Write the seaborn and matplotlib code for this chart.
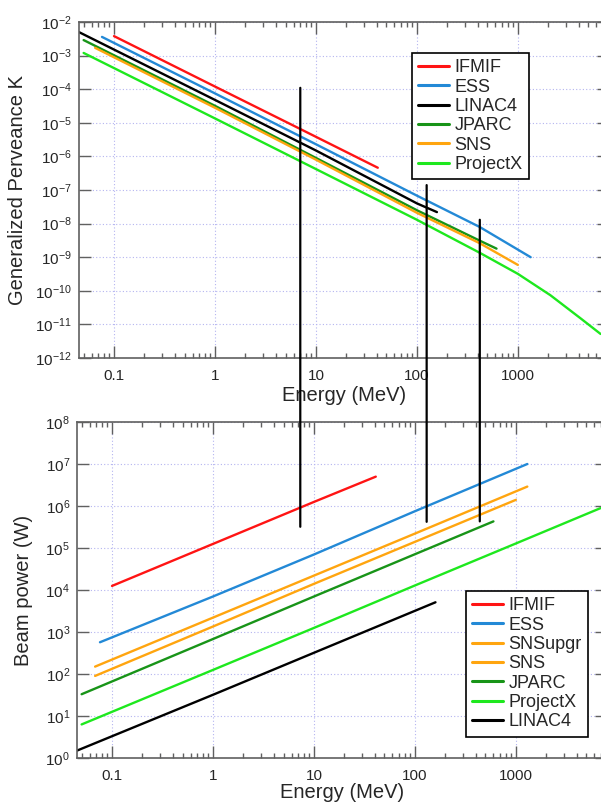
import matplotlib
matplotlib.use("Agg")
import matplotlib.pyplot as plt
import matplotlib.ticker as mticker
from matplotlib.patches import ConnectionPatch
from matplotlib.transforms import blended_transform_factory
import seaborn as sns

# ---- datos ----
# panel superior: perveancia generalizada K vs energia (MeV)
ifmif_E_k = [0.1, 1, 7.1, 41]
ifmif_K = [3.8e-3, 1.2e-4, 6.4e-6, 4.6e-7]
ess_E_k = [0.076, 1, 10, 100, 420, 1340]
ess_K = [3.6e-3, 7.5e-5, 2.3e-6, 6.8e-8, 7.9e-9, 1.0e-9]
linac4_E_k = [0.045, 1, 10, 100, 158]
linac4_K = [5.0e-3, 4.8e-5, 1.5e-6, 4.0e-8, 2.2e-8]
jparc_E_k = [0.05, 1, 10, 100, 420, 615]
jparc_K = [2.9e-3, 3.2e-5, 9.0e-7, 2.5e-8, 3.1e-9, 1.8e-9]
sns_E_k = [0.065, 1, 10, 100, 420, 1000]
sns_K = [1.7e-3, 2.8e-5, 8.0e-7, 2.1e-8, 2.6e-9, 5.9e-10]
projx_E_k = [0.05, 1, 10, 100, 420, 1000, 2100, 4200, 6600]
projx_K = [1.2e-3, 1.35e-5, 4.2e-7, 1.3e-8, 1.35e-9, 3.2e-10, 7.4e-11, 1.5e-11, 5.2e-12]

# panel inferior: potencia del haz (W) vs energia (MeV)
ifmif_E_p = [0.1, 1, 10, 41]
ifmif_P = [1.25e4, 1.25e5, 1.25e6, 5.0e6]
ess_E_p = [0.076, 1, 10, 100, 1300]
ess_P = [5.7e2, 7.0e3, 7.0e4, 7.5e5, 1.0e7]
snsupgr_E_p = [0.068, 1, 10, 100, 1300]
snsupgr_P = [1.5e2, 2.2e3, 2.2e4, 2.2e5, 2.9e6]
sns_E_p = [0.068, 1, 10, 100, 1000]
sns_P = [9.0e1, 1.35e3, 1.4e4, 1.4e5, 1.4e6]
jparc_E_p = [0.05, 1, 10, 100, 600]
jparc_P = [3.3e1, 6.8e2, 7.0e3, 7.1e4, 4.3e5]
projx_E_p = [0.05, 1, 10, 100, 1000, 6900]
projx_P = [6.3, 1.25e2, 1.25e3, 1.28e4, 1.28e5, 8.9e5]
linac4_E_p = [0.045, 1, 10, 160]
linac4_P = [1.5, 3.2e1, 3.2e2, 5.1e3]

# ticks mayores
x_ticks = [0.1, 1, 10, 100, 1000]
k_exps = list(range(-12, -1))
p_exps = list(range(0, 9))

# lineas verticales que unen ambos paneles
marca_E = [7.0, 125, 420]
marca_K = [1.1e-4, 1.4e-7, 1.3e-8]
marca_P = [3.2e5, 4.2e5, 4.3e5]

colores = {
    "IFMIF": "#ff1414",
    "ESS": "#2389d6",
    "LINAC4": "#000000",
    "JPARC": "#189418",
    "SNS": "#ffa50f",
    "SNSupgr": "#ffa50f",
    "ProjectX": "#1ee81e",
}

series_top = [
    ("IFMIF", ifmif_E_k, ifmif_K),
    ("ESS", ess_E_k, ess_K),
    ("LINAC4", linac4_E_k, linac4_K),
    ("JPARC", jparc_E_k, jparc_K),
    ("SNS", sns_E_k, sns_K),
    ("ProjectX", projx_E_k, projx_K),
]
series_bot = [
    ("IFMIF", ifmif_E_p, ifmif_P),
    ("ESS", ess_E_p, ess_P),
    ("SNSupgr", snsupgr_E_p, snsupgr_P),
    ("SNS", sns_E_p, sns_P),
    ("JPARC", jparc_E_p, jparc_P),
    ("ProjectX", projx_E_p, projx_P),
    ("LINAC4", linac4_E_p, linac4_P),
]

sns.set_style("ticks")
plt.rcParams["font.family"] = ["Liberation Sans", "DejaVu Sans"]
plt.rcParams["mathtext.default"] = "regular"

fig = plt.figure(figsize=(6.01, 8.06), dpi=100)
ax1 = fig.add_axes([79 / 601, 1 - 358 / 806, 530 / 601, 336 / 806])
ax2 = fig.add_axes([77 / 601, 1 - 758 / 806, 530 / 601, 336 / 806])


def dibujar(ax, series):
    for nombre, xs, ys in series:
        sns.lineplot(x=xs, y=ys, ax=ax, color=colores[nombre], lw=1.7,
                     label=nombre, sort=False, estimator=None)


def estilo(ax, exps, pad_x):
    ax.set_xscale("log")
    ax.set_yscale("log")
    ax.set_xlim(0.045, 8000)
    ax.set_ylim(10.0 ** exps[0], 10.0 ** exps[-1])
    ax.set_xticks(x_ticks)
    ax.set_xticklabels(["%g" % v for v in x_ticks])
    ax.xaxis.set_minor_locator(mticker.LogLocator(base=10, subs=range(2, 10), numticks=20))
    ax.xaxis.set_minor_formatter(mticker.NullFormatter())
    ax.set_yticks([10.0 ** e for e in exps])
    ax.set_yticklabels(["$10^{%d}$" % e for e in exps])
    ax.yaxis.set_minor_locator(mticker.NullLocator())
    ax.tick_params(which="both", direction="in", top=True, right=True,
                   color="#606060", labelsize=11)
    ax.tick_params(which="major", length=8.5, width=1.0)
    ax.tick_params(which="minor", length=3.8, width=1.0)
    ax.tick_params(axis="x", pad=8)
    ax.tick_params(axis="y", pad=5)
    for s in ax.spines.values():
        s.set_color("#606060")
        s.set_linewidth(1.2)
    ax.grid(True, which="major", color="#b4b4f0", ls=(0, (1, 2)), lw=0.8)
    ax.set_xlabel("Energy (MeV)", fontsize=14.5, labelpad=pad_x)


def leyenda(ax, ancla):
    leg = ax.legend(loc="upper left", bbox_to_anchor=ancla, borderaxespad=0,
                    fontsize=13, labelspacing=0.13, handlelength=1.7,
                    handletextpad=0.3, borderpad=0.35, fancybox=False,
                    framealpha=1, edgecolor="black")
    leg.get_frame().set_linewidth(1.2)
    for h in leg.get_lines():
        h.set_linewidth(2.2)


dibujar(ax1, series_top)
estilo(ax1, k_exps, 2)
ax1.set_ylabel("Generalized Perveance K", fontsize=14.5)
ax1.yaxis.set_label_coords(-0.098, 0.5)
leyenda(ax1, (0.628, 0.908))

dibujar(ax2, series_bot)
estilo(ax2, p_exps, 0)
ax2.set_ylabel("Beam power (W)", fontsize=14.5)
ax2.yaxis.set_label_coords(-0.083, 0.5)
leyenda(ax2, (0.734, 0.497))

# lineas verticales negras entre los dos paneles
tr_b = blended_transform_factory(ax1.transData, ax2.transData)
for e, k, p in zip(marca_E, marca_K, marca_P):
    con = ConnectionPatch(xyA=(e, k), coordsA=ax1.transData,
                          xyB=(e, p), coordsB=tr_b,
                          color="black", lw=1.6, zorder=10)
    fig.add_artist(con)

fig.savefig("out.png", dpi=100)
